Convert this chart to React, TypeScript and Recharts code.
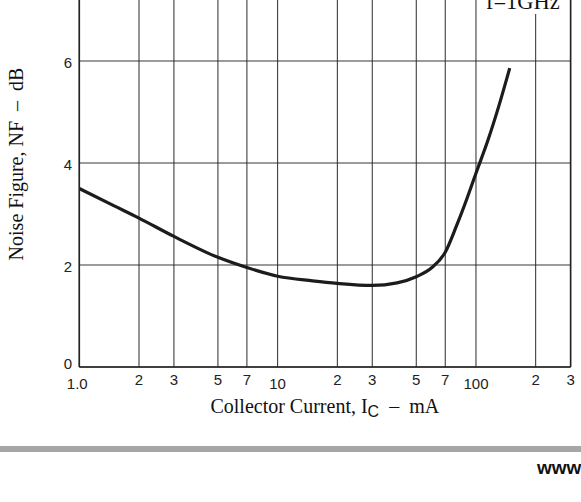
import React from 'react';
import { LineChart, Line, XAxis, YAxis, CartesianGrid, ReferenceArea, ReferenceLine } from 'recharts';

// Collector current (mA) and noise figure (dB)
const currents = [1, 1.5, 2, 3, 5, 7, 10, 15, 20, 30, 40, 50, 60, 70, 80, 90, 100, 115, 130, 148];
const noiseFigure = [3.5, 3.16, 2.92, 2.56, 2.15, 1.95, 1.78, 1.69, 1.64, 1.6, 1.65, 1.77, 1.95, 2.25, 2.78, 3.3, 3.8, 4.45, 5.1, 5.86];

const xTicks = [1, 2, 3, 5, 7, 10, 20, 30, 50, 70, 100, 200, 300];
const xTickLabels = ['1.0', '2', '3', '5', '7', '10', '2', '3', '5', '7', '100', '2', '3'];
const decadeTicks = [1, 10, 100];
const yTicks = [0, 2, 4, 6, 8];
const yTickLabels = ['0', '2', '4', '6', '8'];

const conditionLabel = 'f=1GHz';
const yAxisTitle = 'Noise Figure, NF\u00a0\u00a0\u2013\u00a0\u00a0dB';
const xAxisTitleMain = 'Collector Current, I';
const xAxisTitleSub = 'C';
const xAxisTitleUnit = '\u00a0\u00a0\u2013\u00a0\u00a0mA';
const footerText = 'www';

const data = currents.map((c, i) => ({ ic: c, nf: noiseFigure[i] }));

const SANS = 'Liberation Sans, Arial, Helvetica, sans-serif';
const SERIF = 'Liberation Serif, Times New Roman, serif';

const XTick = (props: any) => {
  const { x, y, payload } = props;
  const v = payload.value;
  const idx = xTicks.indexOf(v);
  const label = idx >= 0 ? xTickLabels[idx] : String(v);
  const isDecade = decadeTicks.includes(v);
  const dx = v === 1 ? -2 : 0;
  return (
    <text x={x + dx} y={y + (isDecade ? 21.5 : 17.5)} textAnchor="middle" fontFamily={SANS} fontSize={15} fill="#222">
      {label}
    </text>
  );
};

const YTick = (props: any) => {
  const { x, y, payload } = props;
  const v = payload.value;
  const idx = yTicks.indexOf(v);
  const label = idx >= 0 ? yTickLabels[idx] : String(v);
  return (
    <text x={x - 7.3} y={y + (v === 0 ? 1.5 : 6.5)} textAnchor="end" fontFamily={SANS} fontSize={15} fill="#222">
      {label}
    </text>
  );
};

const ConditionText = (props: any) => {
  const vb = props.viewBox || {};
  const cx = vb.x + vb.width / 2 - 1;
  const by = vb.y + vb.height - 4.7;
  return (
    <text x={cx} y={by} textAnchor="middle" fontFamily={SERIF} fontSize={22.5} fill="#111">
      {conditionLabel}
    </text>
  );
};

const YTitle = () => (
  <text x={22.5} y={225} transform="rotate(-90, 22.5, 225)" textAnchor="middle" fontFamily={SERIF} fontSize={20} fill="#111">
    {yAxisTitle}
  </text>
);

const XTitle = () => (
  <text x={324.8} y={474} textAnchor="middle" fontFamily={SERIF} fontSize={20} fill="#111">
    {xAxisTitleMain}
    <tspan fontFamily={SANS} fontSize={16} dy={4}>{xAxisTitleSub}</tspan>
    <tspan dy={-4}>{xAxisTitleUnit}</tspan>
  </text>
);

export default function App() {
  return (
    <div style={{ position: 'absolute', left: 0, top: 0, width: 581, height: 502, overflow: 'hidden', background: '#fff' }}>
      <div style={{ position: 'absolute', left: 0, top: -61 }}>
        <LineChart width={581} height={563} data={data} margin={{ top: 20, right: 10.4, bottom: 75, left: 19.3 }}>
          <CartesianGrid horizontal={true} vertical={false} stroke="#7a7a7a" strokeWidth={1.3} />
          <CartesianGrid horizontal={false} vertical={true} stroke="#2a2a2a" strokeWidth={1} />
          <XAxis
            dataKey="ic"
            type="number"
            scale="log"
            domain={[1, 300]}
            ticks={xTicks}
            interval={0}
            allowDataOverflow
            height={60}
            tickSize={0}
            tickMargin={0}
            tickLine={false}
            axisLine={{ stroke: '#222', strokeWidth: 1.6 }}
            tick={<XTick />}
            label={{ content: () => <XTitle /> }}
          />
          <YAxis
            type="number"
            domain={[0, 8]}
            ticks={yTicks}
            interval={0}
            width={60}
            tickSize={0}
            tickMargin={0}
            tickLine={false}
            axisLine={{ stroke: '#222', strokeWidth: 1.6 }}
            tick={<YTick />}
            label={{ content: () => <YTitle /> }}
          />
          <ReferenceArea x1={102.2} x2={297.8} y1={6.92} y2={8} fill="#fff" fillOpacity={1} stroke="none" label={<ConditionText />} />
          <ReferenceLine x={300} stroke="#222" strokeWidth={1.6} />
          <ReferenceLine y={8} stroke="#222" strokeWidth={1.6} />
          <Line type="monotone" dataKey="nf" stroke="#1c1c1c" strokeWidth={3.2} dot={false} isAnimationActive={false} />
        </LineChart>
      </div>
      <svg style={{ position: 'absolute', left: 0, top: 440 }} width={581} height={62}>
        <rect x={0} y={6} width={581} height={6} fill="#a6a6a6" />
        <text x={537} y={34} fontFamily={SANS} fontWeight="bold" fontSize={19} fill="#111">{footerText}</text>
      </svg>
    </div>
  );
}
